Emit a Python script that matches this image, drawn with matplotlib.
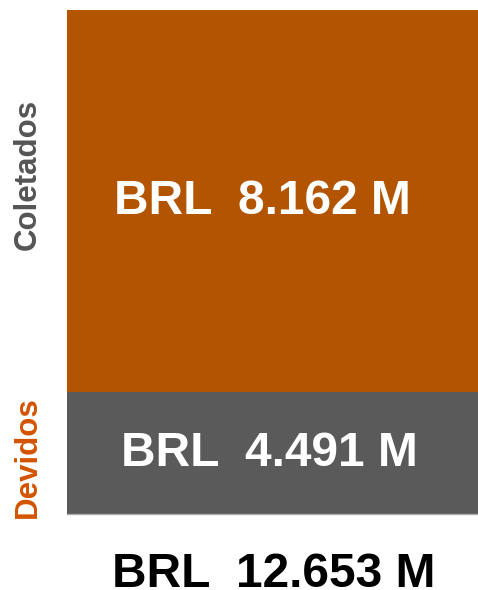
import matplotlib.pyplot as plt

# dados do grafico
categorias = ["Devidos", "Coletados"]
valores = [4.491, 8.162]  # milhoes BRL
cores = ["#5A5A5A", "#B25400"]
cores_rotulo = ["#D35400", "#555555"]
total = sum(valores)
y_min = 1.89  # eixo nao comeca em zero
desloc_x = [-0.01, -0.026]  # posicao horizontal dos rotulos internos

plt.rcParams["font.family"] = ["Liberation Sans", "DejaVu Sans"]

fig = plt.figure(figsize=(4.78, 5.90), dpi=100)
ax = fig.add_axes([67 / 478, 1 - 514 / 590, 413 / 478, 504 / 590])

base = 0
for cat, v, c, dx in zip(categorias, valores, cores, desloc_x):
    ax.bar(0, v, bottom=base, width=1.0, color=c)
    meio = (max(base, y_min) + base + v) / 2
    ax.text(dx, meio, "BRL  %.3f M" % v, color="white", fontsize=34.5,
            fontweight="bold", ha="center", va="center")
    base += v

ax.set_xlim(-0.5, 0.5)
ax.set_ylim(y_min, total)
ax.set_xticks([])
ax.set_yticks([])
for s in ["top", "right", "left"]:
    ax.spines[s].set_visible(False)
ax.spines["bottom"].set_color("#AAAAAA")
ax.spines["bottom"].set_linewidth(1)

# rotulos laterais
fig.text(28 / 478, 1 - 457 / 590, categorias[0], rotation=90, color=cores_rotulo[0],
         fontsize=22.5, fontweight="bold", ha="center", va="center")
fig.text(28 / 478, 1 - 174 / 590, categorias[1], rotation=90, color=cores_rotulo[1],
         fontsize=22.5, fontweight="bold", ha="center", va="center")

# total
fig.text(274 / 478, 1 - 587 / 590, "BRL  %.3f M" % total, color="black", fontsize=34.5,
         fontweight="bold", ha="center", va="baseline")

fig.savefig("out.png", dpi=100)
